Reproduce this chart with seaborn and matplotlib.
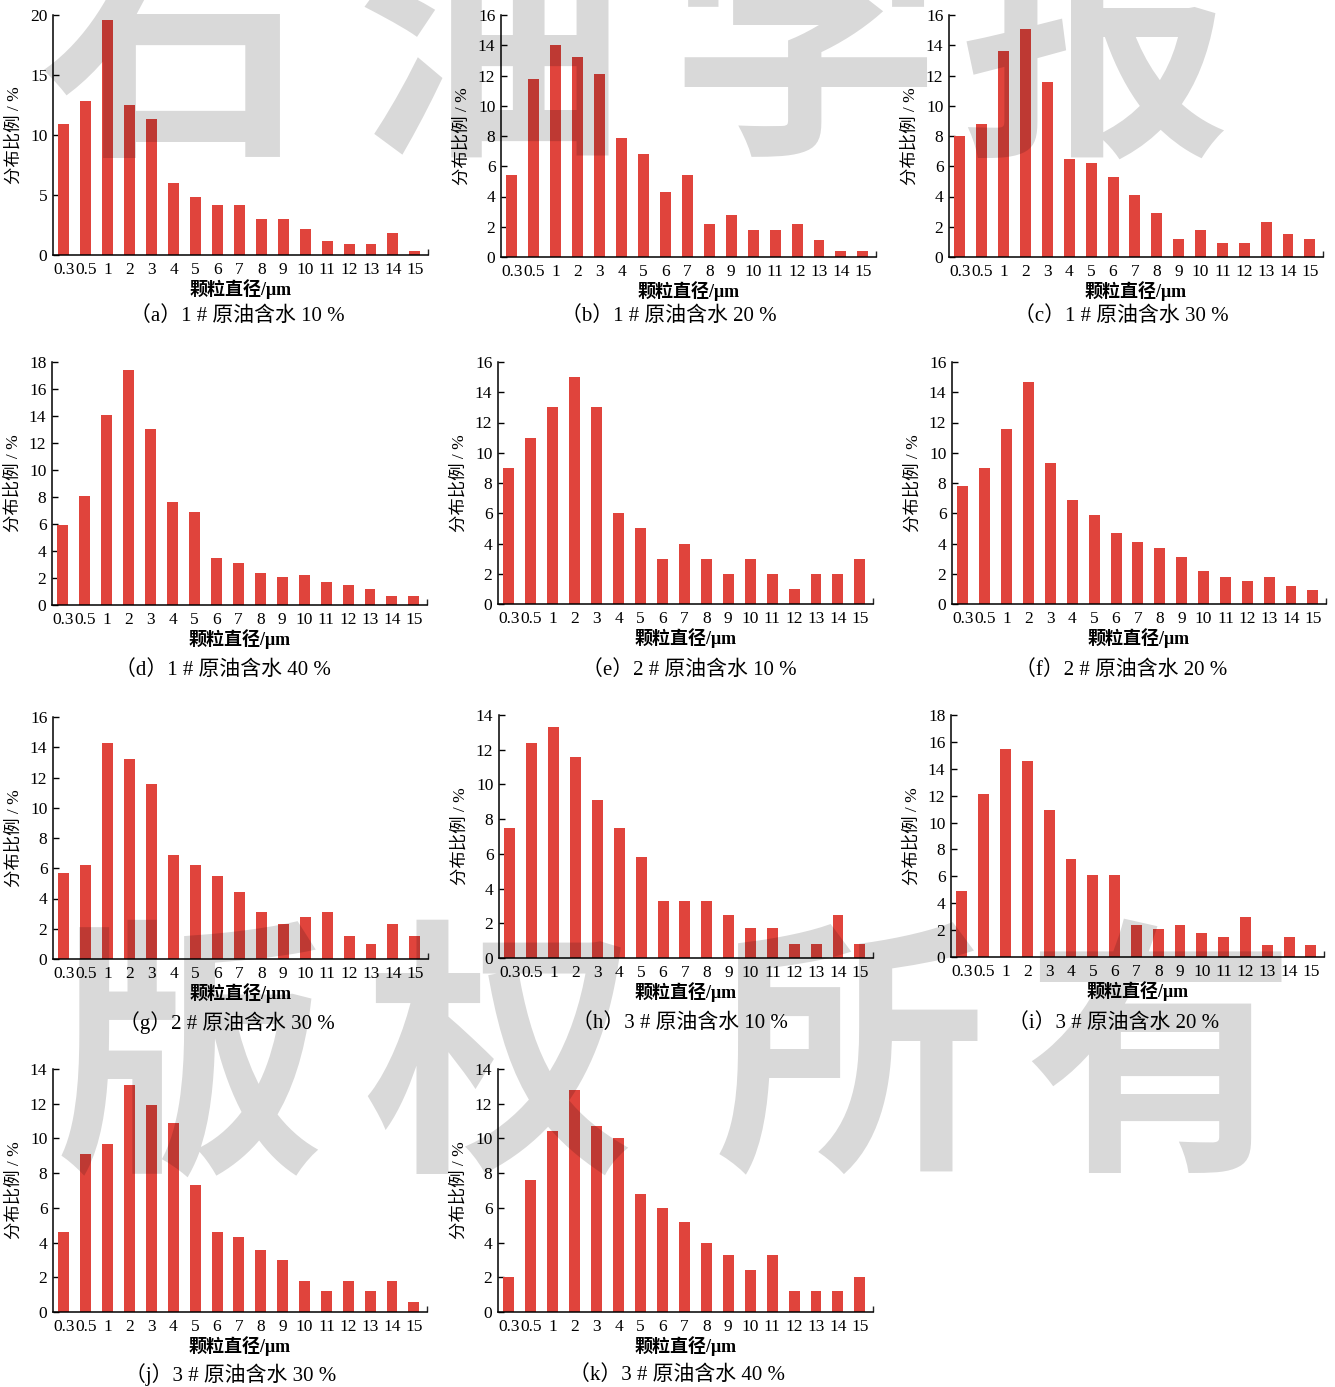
import matplotlib
matplotlib.use("Agg")
import matplotlib.pyplot as plt
import seaborn as sns
import pandas as pd

sns.set_theme(style="ticks")
plt.rcParams["font.family"] = ["Liberation Serif", "Noto Sans CJK SC", "DejaVu Sans"]
plt.rcParams["axes.unicode_minus"] = False

# particle diameter classes (μm)
sizes = ["0.3", "0.5", "1", "2", "3", "4", "5", "6", "7", "8",
         "9", "10", "11", "12", "13", "14", "15"]

# distribution share (%) per crude oil sample and water cut
oil1_w10 = [10.9, 12.8, 19.6, 12.5, 11.3, 6.0, 4.8, 4.2, 4.2, 3.0, 3.0, 2.2, 1.2, 0.9, 0.9, 1.8, 0.3]
oil1_w20 = [5.4, 11.8, 14.0, 13.2, 12.1, 7.9, 6.8, 4.3, 5.4, 2.2, 2.8, 1.8, 1.8, 2.2, 1.1, 0.4, 0.4]
oil1_w30 = [8.0, 8.8, 13.6, 15.1, 11.6, 6.5, 6.2, 5.3, 4.1, 2.9, 1.2, 1.8, 0.9, 0.9, 2.3, 1.5, 1.2]
oil1_w40 = [5.9, 8.1, 14.1, 17.4, 13.0, 7.6, 6.9, 3.5, 3.1, 2.4, 2.1, 2.2, 1.7, 1.5, 1.2, 0.7, 0.7]
oil2_w10 = [9.0, 11.0, 13.0, 15.0, 13.0, 6.0, 5.0, 3.0, 4.0, 3.0, 2.0, 3.0, 2.0, 1.0, 2.0, 2.0, 3.0]
oil2_w20 = [7.8, 9.0, 11.6, 14.7, 9.3, 6.9, 5.9, 4.7, 4.1, 3.7, 3.1, 2.2, 1.8, 1.5, 1.8, 1.2, 0.9]
oil2_w30 = [5.7, 6.2, 14.3, 13.2, 11.6, 6.9, 6.2, 5.5, 4.4, 3.1, 2.3, 2.8, 3.1, 1.5, 1.0, 2.3, 1.5]
oil3_w10 = [7.5, 12.4, 13.3, 11.6, 9.1, 7.5, 5.8, 3.3, 3.3, 3.3, 2.5, 1.7, 1.7, 0.8, 0.8, 2.5, 0.8]
oil3_w20 = [4.9, 12.1, 15.5, 14.6, 10.9, 7.3, 6.1, 6.1, 2.4, 2.1, 2.4, 1.8, 1.5, 3.0, 0.9, 1.5, 0.9]
oil3_w30 = [4.6, 9.1, 9.7, 13.1, 11.9, 10.9, 7.3, 4.6, 4.3, 3.6, 3.0, 1.8, 1.2, 1.8, 1.2, 1.8, 0.6]
oil3_w40 = [2.0, 7.6, 10.4, 12.8, 10.7, 10.0, 6.8, 6.0, 5.2, 4.0, 3.3, 2.4, 3.3, 1.2, 1.2, 1.2, 2.0]

titles = ["（a）1 # 原油含水 10 %", "（b）1 # 原油含水 20 %", "（c）1 # 原油含水 30 %",
          "（d）1 # 原油含水 40 %", "（e）2 # 原油含水 10 %", "（f）2 # 原油含水 20 %",
          "（g）2 # 原油含水 30 %", "（h）3 # 原油含水 10 %", "（i）3 # 原油含水 20 %",
          "（j）3 # 原油含水 30 %", "（k）3 # 原油含水 40 %"]
series = [oil1_w10, oil1_w20, oil1_w30, oil1_w40, oil2_w10, oil2_w20,
          oil2_w30, oil3_w10, oil3_w20, oil3_w30, oil3_w40]
y_max = [20, 16, 16, 18, 16, 16, 16, 14, 18, 14, 14]
y_step = [5, 2, 2, 2, 2, 2, 2, 2, 2, 2, 2]

# axes boxes in pixels: left, top, right, bottom
W, H = 1335, 1387
boxes = [(53, 15, 428, 255), (501, 15, 876, 257), (949, 15, 1323, 257),
         (52, 362, 427, 605), (498, 362, 873, 604), (952, 362, 1326, 604),
         (53, 717, 428, 959), (499, 715, 873, 958), (951, 715, 1324, 957),
         (53, 1069, 427, 1312), (498, 1069, 873, 1312)]
# caption centres in pixels
captions = [(237, 316), (669, 316), (1121, 316),
            (223, 670), (689, 670), (1121, 670),
            (227, 1023), (680, 1023), (1114, 1023),
            (231, 1375), (677, 1375)]

bar_color = "#e0443c"

fig = plt.figure(figsize=(W / 100, H / 100), dpi=100)
fig.patch.set_facecolor("white")

for vals, title, ym, ys, (l, t, r, b), (cx, cy) in zip(series, titles, y_max, y_step, boxes, captions):
    ax = fig.add_axes([l / W, 1 - b / H, (r - l) / W, (b - t) / H])
    df = pd.DataFrame({"size": sizes, "share": vals})
    sns.barplot(data=df, x="size", y="share", order=sizes, color=bar_color,
                saturation=1, width=0.5, linewidth=0, ax=ax)
    ax.set_xlim(-0.5, len(sizes) - 0.4)
    ax.set_ylim(0, ym)
    ax.set_yticks(range(0, ym + 1, ys))
    ax.set_facecolor("none")
    sns.despine(ax=ax)
    for side in ("left", "bottom"):
        ax.spines[side].set_linewidth(1.1)
        ax.spines[side].set_color("black")
    ax.tick_params(axis="y", direction="in", length=4, width=1, labelsize=12.5, pad=4, colors="black")
    ax.tick_params(axis="x", length=0, labelsize=12.5, pad=5, colors="black")
    ax.set_xticks(range(len(sizes)))
    ax.set_xticklabels(sizes)
    ax.set_xticks([len(sizes) - 0.4], minor=True)
    ax.tick_params(axis="x", which="minor", direction="in", length=4, width=1)
    ax.set_xlabel("颗粒直径/μm", fontsize=13, fontweight="bold", labelpad=1, color="black")
    ax.set_ylabel("分布比例 / %", fontsize=12.5, labelpad=5, color="black")
    fig.text(cx / W, 1 - cy / H, title, fontsize=15, ha="center", va="center", color="black")

# journal watermark
wm_top = [("石", 175, 55), ("油", 490, 55), ("学", 805, 55), ("报", 1095, 55)]
wm_bottom = [("版", 190, 1070), ("权", 500, 1070), ("所", 850, 1070), ("有", 1160, 1070)]
for ch, x, y in wm_top + wm_bottom:
    fig.text(x / W, 1 - y / H, ch, fontsize=195, family="Noto Sans CJK SC", fontweight="bold",
             ha="center", va="center", color="black", alpha=0.15, zorder=10)

fig.savefig("out.png", dpi=100, facecolor="white")
